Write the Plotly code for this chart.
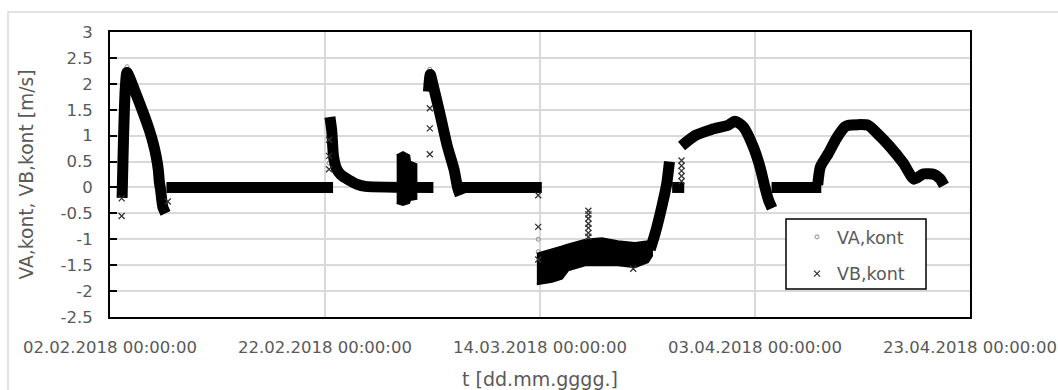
import plotly.graph_objects as go

# ---------------- data ----------------
# VB,kont main band (None = gap between measurement runs)
vb_t = [
    "2018-02-03 03:00", "2018-02-03 06:00", "2018-02-03 10:00", "2018-02-03 14:00",
    "2018-02-04 08:00", "2018-02-05 06:00", "2018-02-05 16:00", "2018-02-06 01:00",
    "2018-02-06 07:00", "2018-02-06 12:00", "2018-02-06 14:00", "2018-02-06 17:00",
    "2018-02-06 22:00", "2018-02-07 04:00", None,
    "2018-02-07 06:00", "2018-02-22 18:00", None,
    "2018-02-22 11:00", "2018-02-22 15:00", "2018-02-22 19:00", "2018-02-23 02:00",
    "2018-02-23 12:00", "2018-02-24 06:00", "2018-02-25 00:00", "2018-02-25 18:00",
    "2018-03-04 02:00", None,
    "2018-03-03 15:00", "2018-03-03 19:00", "2018-03-04 02:00", "2018-03-04 18:00",
    "2018-03-05 09:00", "2018-03-06 00:00", "2018-03-06 08:00", "2018-03-06 14:00", None,
    "2018-03-06 06:00", "2018-03-14 04:00", None,
    "2018-03-24 06:00", "2018-03-24 17:00", "2018-03-25 08:00", "2018-03-25 19:00",
    "2018-03-26 01:00", None,
    "2018-03-26 07:00", "2018-03-27 10:00", None,
    "2018-03-27 04:00", "2018-03-28 10:00", "2018-03-29 23:00", "2018-03-31 12:00",
    "2018-04-01 03:00", "2018-04-01 22:00", "2018-04-02 20:00", "2018-04-03 11:00",
    "2018-04-03 22:00", "2018-04-04 06:00", "2018-04-04 14:00", None,
    "2018-04-04 13:00", "2018-04-09 04:00", None,
    "2018-04-08 20:00", "2018-04-09 02:00", "2018-04-09 20:00", "2018-04-10 14:00",
    "2018-04-11 09:00", "2018-04-11 16:00", "2018-04-13 13:00", "2018-04-14 08:00",
    "2018-04-15 13:00", "2018-04-16 19:00", "2018-04-17 19:00", "2018-04-18 16:00",
    "2018-04-19 16:00", "2018-04-20 05:00", "2018-04-20 14:00",
]
vb_v = [
    -0.2, 0.9, 1.9, 2.22,
    1.85, 1.35, 1.1, 0.83,
    0.6, 0.33, 0.12, -0.05,
    -0.38, -0.5, None,
    0.0, 0.0, None,
    1.36, 1.1, 0.6, 0.36,
    0.24, 0.14, 0.06, 0.02,
    0.0, None,
    1.85, 2.18, 1.95, 1.37,
    0.8, 0.35, 0.0, -0.15, None,
    0.0, 0.0, None,
    -1.2, -0.89, -0.37, 0.08,
    0.5, None,
    0.0, 0.0, None,
    0.8, 1.0, 1.12, 1.2,
    1.28, 1.17, 0.79, 0.40,
    0.01, -0.24, -0.4, None,
    0.0, 0.0, None,
    0.05, 0.4, 0.66, 0.95,
    1.17, 1.2, 1.2, 1.05,
    0.79, 0.47, 0.16, 0.26,
    0.25, 0.17, 0.04,
]

# noisy stretch end of February (upper / lower extent of the point cloud)
noise1_t = ["2018-02-28 16:00", "2018-03-01 06:00", "2018-03-01 20:00",
            "2018-03-01 22:00", "2018-03-02 12:00"]
noise1_hi = [0.62, 0.68, 0.62, 0.5, 0.45]
noise1_lo = [-0.3, -0.34, -0.3, -0.24, -0.22]

# noisy negative stretch in March (upper / lower extent of the point cloud)
noise2_t = ["2018-03-13 17:00", "2018-03-15 03:00", "2018-03-16 01:00", "2018-03-16 15:00",
            "2018-03-18 05:00", "2018-03-19 18:00", "2018-03-21 06:00", "2018-03-22 20:00",
            "2018-03-24 01:00", "2018-03-24 10:00"]
noise2_hi = [-1.28, -1.2, -1.14, -1.1, -1.01, -0.98, -1.04, -1.07, -1.04, -0.98]
noise2_lo = [-1.87, -1.82, -1.76, -1.6, -1.5, -1.5, -1.5, -1.54, -1.44, -1.32]

# isolated VB,kont points
vb_pts_t = [
    "2018-02-03 02:00", "2018-02-03 02:00", "2018-02-07 09:00",
    "2018-02-22 09:00", "2018-02-22 09:00", "2018-02-22 09:00",
    "2018-03-03 18:00", "2018-03-03 18:00", "2018-03-03 18:00",
    "2018-03-13 20:00", "2018-03-13 20:00", "2018-03-13 20:00",
    "2018-03-18 12:00", "2018-03-18 12:00", "2018-03-18 12:00", "2018-03-18 12:00",
    "2018-03-18 12:00", "2018-03-18 12:00", "2018-03-18 12:00",
    "2018-03-22 16:00",
    "2018-03-27 04:00", "2018-03-27 04:00", "2018-03-27 04:00", "2018-03-27 04:00",
    "2018-03-27 04:00",
]
vb_pts_v = [
    -0.55, -0.21, -0.27,
    0.92, 0.61, 0.35,
    1.53, 1.14, 0.64,
    -0.15, -0.76, -1.39,
    -0.45, -0.52, -0.6, -0.7, -0.78, -0.88, -0.95,
    -1.57,
    0.12, 0.22, 0.32, 0.42, 0.52,
]

# VA,kont points (mostly hidden under VB; visible where they differ)
va_t = ["2018-02-03 14:00", "2018-02-22 09:00", "2018-03-03 18:00",
        "2018-03-13 20:00", "2018-03-13 20:00", "2018-03-18 12:00", "2018-03-18 12:00"]
va_v = [2.33, 0.47, 2.28, -1.0, -1.24, -0.56, -0.74]

x_tick_dates = ["2018-02-02", "2018-02-22", "2018-03-14", "2018-04-03", "2018-04-23"]
x_tick_labels = ["02.02.2018 00:00:00", "22.02.2018 00:00:00", "14.03.2018 00:00:00",
                 "03.04.2018 00:00:00", "23.04.2018 00:00:00"]
y_ticks = [-2.5, -2, -1.5, -1, -0.5, 0, 0.5, 1, 1.5, 2, 2.5, 3]
y_tick_labels = ["-2.5", "-2", "-1.5", "-1", "-0.5", "0", "0.5", "1", "1.5", "2", "2.5", "3"]

# ---------------- figure ----------------
TXT = "#595959"
GRID = "#d9d9d9"
FONT = "DejaVu Sans"

fig = go.Figure()

fig.add_trace(go.Scatter(
    x=va_t, y=va_v, mode="markers", name="VA,kont", legendgroup="a",
    marker=dict(symbol="circle-open", size=4, color="#8c8c8c", line=dict(width=1, color="#8c8c8c")),
))
fig.add_trace(go.Scatter(
    x=vb_t, y=vb_v, mode="lines", showlegend=False, connectgaps=False,
    line=dict(color="black", width=11, shape="spline", smoothing=0.6), hoverinfo="skip",
))
for nt, hi, lo in [(noise1_t, noise1_hi, noise1_lo), (noise2_t, noise2_hi, noise2_lo)]:
    fig.add_trace(go.Scatter(
        x=nt + nt[::-1], y=hi + lo[::-1], mode="lines", fill="toself",
        fillcolor="black", line=dict(color="black", width=2), showlegend=False,
        hoverinfo="skip",
    ))
fig.add_trace(go.Scatter(
    x=vb_pts_t, y=vb_pts_v, mode="markers", name="VB,kont", legendgroup="b",
    marker=dict(symbol="x-thin-open", size=6, color="#333333", line=dict(width=1.3, color="#333333")),
))

# plot area: x 110..970, y 32..317
fig.update_layout(
    width=1058, height=390,
    margin=dict(l=110, r=88, t=32, b=73),
    paper_bgcolor="white", plot_bgcolor="white",
    font=dict(family=FONT, size=16, color=TXT),
    showlegend=True,
    legend=dict(
        x=(797 - 110) / 860, y=(317 - 219) / 285, xanchor="left", yanchor="top",
        bgcolor="rgba(0,0,0,0)", borderwidth=0,
        font=dict(family=FONT, size=17.5, color=TXT),
        traceorder="grouped", tracegroupgap=11, itemwidth=30,
    ),
    xaxis=dict(
        type="date", range=["2018-02-02", "2018-04-23"], automargin=False,
        tickvals=x_tick_dates, ticktext=x_tick_labels,
        showgrid=True, gridcolor=GRID, gridwidth=1.5,
        showline=True, linecolor="black", linewidth=2, mirror=True,
        ticks="", ticklabelstandoff=14, zeroline=False,
        tickfont=dict(family=FONT, size=16.5, color=TXT),
        title=dict(text="t [dd.mm.gggg.]", font=dict(family=FONT, size=19, color=TXT), standoff=17),
    ),
    yaxis=dict(
        range=[-2.5, 3], tickvals=y_ticks, ticktext=y_tick_labels, automargin=False,
        showgrid=True, gridcolor=GRID, gridwidth=1.5,
        showline=True, linecolor="black", linewidth=2, mirror=True,
        ticks="inside", ticklen=7, tickwidth=2, tickcolor="black",
        ticklabelstandoff=12, zeroline=False,
        tickfont=dict(family=FONT, size=16.5, color=TXT),
        title=dict(text="VA,kont, VB,kont [m/s]", font=dict(family=FONT, size=18.7, color=TXT), standoff=22),
    ),
    shapes=[
        # outer chart-area frame
        dict(type="rect", xref="paper", yref="paper",
             x0=(8 - 110) / 860, x1=1.3, y0=-0.4, y1=(317 - 12) / 285,
             line=dict(color=GRID, width=1.5), fillcolor="rgba(0,0,0,0)", layer="below"),
        # legend box
        dict(type="rect", xref="paper", yref="paper",
             x0=(786 - 110) / 860, x1=(926 - 110) / 860,
             y0=(317 - 289) / 285, y1=(317 - 219) / 285,
             line=dict(color="black", width=1.5), fillcolor="white", layer="above"),
    ],
)

fig.write_html("out.html")
